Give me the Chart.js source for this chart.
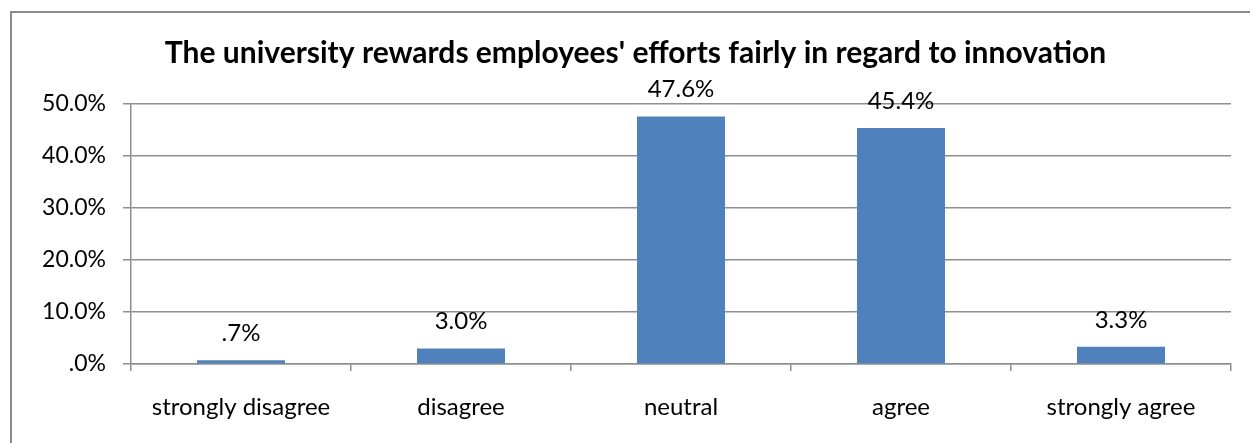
<!DOCTYPE html>
<html>
<head>
<meta charset="utf-8">
<script src="https://cdn.jsdelivr.net/npm/chart.js@4"></script>
<style>
  html, body { margin: 0; padding: 0; background: #fff; overflow: hidden; }
  #wrap { position: relative; width: 1250px; height: 443px; }
  #frame { position: absolute; left: 10px; top: 11px; width: 2000px; height: 2000px;
           border-left: 2px solid #8a8a8a; border-top: 2px solid #8a8a8a; }
  canvas { position: absolute; left: 0; top: 0; }
</style>
</head>
<body>
<div id="wrap">
  <div id="frame"></div>
  <canvas id="c" width="1250" height="443"></canvas>
</div>
<script>
const titleText = "The university rewards employees' efforts fairly in regard to innovation";
const categories = ["strongly disagree", "disagree", "neutral", "agree", "strongly agree"];
const values = [0.7, 3.0, 47.6, 45.4, 3.3];
const valueLabels = [".7%", "3.0%", "47.6%", "45.4%", "3.3%"];
const yTickValues = [0, 10, 20, 30, 40, 50];
const yTickLabels = [".0%", "10.0%", "20.0%", "30.0%", "40.0%", "50.0%"];

const FONT = "Lato, 'Open Sans', sans-serif";
const GRID = "#8e8e8e";

const dataLabelPlugin = {
  id: 'dataLabels',
  afterDatasetsDraw(chart) {
    const ctx = chart.ctx;
    const meta = chart.getDatasetMeta(0);
    ctx.save();
    ctx.font = "24px " + FONT;
    ctx.fillStyle = "#000";
    ctx.textAlign = "center";
    ctx.textBaseline = "alphabetic";
    meta.data.forEach((bar, i) => {
      ctx.fillText(valueLabels[i], bar.x, bar.y - 19);
    });
    ctx.restore();
  }
};

new Chart(document.getElementById('c'), {
  type: 'bar',
  data: {
    labels: categories,
    datasets: [{
      data: values,
      backgroundColor: "#4F81BD",
      borderWidth: 0,
      barPercentage: 0.4,
      categoryPercentage: 1.0
    }]
  },
  options: {
    responsive: false,
    animation: false,
    devicePixelRatio: 1,
    layout: { padding: { left: 40, right: 19, top: 0, bottom: 0 } },
    plugins: {
      legend: { display: false },
      tooltip: { enabled: false },
      title: {
        display: true,
        text: titleText,
        color: "#000",
        font: { family: FONT, size: 30, weight: "bold" },
        padding: { top: 35, bottom: 33 }
      }
    },
    scales: {
      x: {
        grid: { display: true, drawOnChartArea: false, offset: true, color: GRID, lineWidth: 1.5, tickLength: 7 },
        border: { display: true, color: GRID, width: 1.5 },
        ticks: { color: "#000", font: { family: FONT, size: 24 }, padding: 22, maxRotation: 0 },
        afterFit(scale) { scale.height = 79; }
      },
      y: {
        min: 0, max: 50,
        afterBuildTicks(scale) { scale.ticks = yTickValues.map(v => ({ value: v })); },
        grid: { color: GRID, lineWidth: 1.5, tickLength: 8 },
        border: { display: true, color: GRID, width: 1.5 },
        ticks: {
          color: "#000", font: { family: FONT, size: 23 }, padding: 17,
          callback(value) { const i = yTickValues.indexOf(value); return i >= 0 ? yTickLabels[i] : ''; }
        },
        afterFit(scale) { scale.width = 91; }
      }
    }
  },
  plugins: [dataLabelPlugin]
});
</script>
</body>
</html>
